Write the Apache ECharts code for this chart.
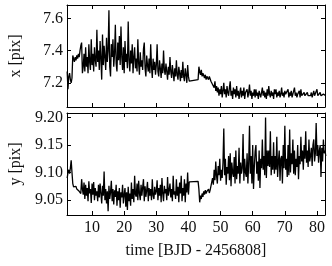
<!DOCTYPE html>
<html>
<head>
<meta charset="utf-8">
<script src="https://cdn.jsdelivr.net/npm/echarts@6/dist/echarts.min.js"></script>
<style>
  html, body { margin: 0; padding: 0; background: #fff; }
  #chart { width: 332px; height: 266px; }
</style>
</head>
<body>
<div id="chart"></div>
<script>
// time samples before the gap (days, BJD - 2456808), 8 per row
var t1 = [
  2.25, 2.5, 2.75, 3, 3.25, 3.5, 3.75, 4,
  4.25, 4.5, 4.75, 5, 5.25, 5.5, 5.75, 6,
  6.25, 6.5, 6.75, 7, 7.25, 7.5, 7.75, 8,
  8.25, 8.5, 8.75, 9, 9.25, 9.5, 9.75, 10,
  10.25, 10.5, 10.75, 11, 11.25, 11.5, 11.75, 12,
  12.25, 12.5, 12.75, 13, 13.25, 13.5, 13.75, 14,
  14.25, 14.5, 14.75, 15, 15.25, 15.5, 15.75, 16,
  16.25, 16.5, 16.75, 17, 17.25, 17.5, 17.75, 18,
  18.25, 18.5, 18.75, 19, 19.25, 19.5, 19.75, 20,
  20.25, 20.5, 20.75, 21, 21.25, 21.5, 21.75, 22,
  22.25, 22.5, 22.75, 23, 23.25, 23.5, 23.75, 24,
  24.25, 24.5, 24.75, 25, 25.25, 25.5, 25.75, 26,
  26.25, 26.5, 26.75, 27, 27.25, 27.5, 27.75, 28,
  28.25, 28.5, 28.75, 29, 29.25, 29.5, 29.75, 30,
  30.25, 30.5, 30.75, 31, 31.25, 31.5, 31.75, 32,
  32.25, 32.5, 32.75, 33, 33.25, 33.5, 33.75, 34,
  34.25, 34.5, 34.75, 35, 35.25, 35.5, 35.75, 36,
  36.25, 36.5, 36.75, 37, 37.25, 37.5, 37.75, 38,
  38.25, 38.5, 38.75, 39, 39.25, 39.5, 39.75, 40,
  40.25
]
// time samples after the gap
var t2 = [
  43, 43.25, 43.5, 43.75, 44, 44.25, 44.5, 44.75,
  45, 45.25, 45.5, 45.75, 46, 46.25, 46.5, 46.75,
  47, 47.25, 47.5, 47.75, 48, 48.25, 48.5, 48.75,
  49, 49.25, 49.5, 49.75, 50, 50.25, 50.5, 50.75,
  51, 51.25, 51.5, 51.75, 52, 52.25, 52.5, 52.75,
  53, 53.25, 53.5, 53.75, 54, 54.25, 54.5, 54.75,
  55, 55.25, 55.5, 55.75, 56, 56.25, 56.5, 56.75,
  57, 57.25, 57.5, 57.75, 58, 58.25, 58.5, 58.75,
  59, 59.25, 59.5, 59.75, 60, 60.25, 60.5, 60.75,
  61, 61.25, 61.5, 61.75, 62, 62.25, 62.5, 62.75,
  63, 63.25, 63.5, 63.75, 64, 64.25, 64.5, 64.75,
  65, 65.25, 65.5, 65.75, 66, 66.25, 66.5, 66.75,
  67, 67.25, 67.5, 67.75, 68, 68.25, 68.5, 68.75,
  69, 69.25, 69.5, 69.75, 70, 70.25, 70.5, 70.75,
  71, 71.25, 71.5, 71.75, 72, 72.25, 72.5, 72.75,
  73, 73.25, 73.5, 73.75, 74, 74.25, 74.5, 74.75,
  75, 75.25, 75.5, 75.75, 76, 76.25, 76.5, 76.75,
  77, 77.25, 77.5, 77.75, 78, 78.25, 78.5, 78.75,
  79, 79.25, 79.5, 79.75, 80, 80.25, 80.5, 80.75,
  81, 81.25, 81.5, 81.75, 82, 82.25, 82.5, 82.75
]
// x [pix]
var x1 = [
  7.27, 7.16, 7.24, 7.26, 7.22, 7.20, 7.23, 7.37,
  7.35, 7.33, 7.36, 7.34, 7.37, 7.35, 7.38, 7.36,
  7.40, 7.43, 7.45, 7.26, 7.30, 7.38, 7.27, 7.42,
  7.30, 7.36, 7.26, 7.44, 7.33, 7.28, 7.47, 7.31,
  7.38, 7.27, 7.42, 7.34, 7.30, 7.53, 7.33, 7.40,
  7.28, 7.46, 7.35, 7.22, 7.50, 7.31, 7.43, 7.36,
  7.28, 7.48, 7.33, 7.40, 7.65, 7.30, 7.24, 7.44,
  7.36, 7.47, 7.30, 7.38, 7.56, 7.32, 7.27, 7.45,
  7.34, 7.49, 7.31, 7.55, 7.36, 7.28, 7.42, 7.26,
  7.46, 7.33, 7.38, 7.29, 7.58, 7.34, 7.27, 7.40,
  7.32, 7.44, 7.26, 7.36, 7.42, 7.29, 7.35, 7.27,
  7.47, 7.32, 7.25, 7.39, 7.30, 7.34, 7.28, 7.41,
  7.45, 7.29, 7.24, 7.37, 7.31, 7.27, 7.35, 7.26,
  7.44, 7.30, 7.23, 7.35, 7.28, 7.33, 7.25, 7.31,
  7.44, 7.27, 7.24, 7.34, 7.29, 7.23, 7.32, 7.26,
  7.40, 7.28, 7.25, 7.32, 7.27, 7.22, 7.30, 7.25,
  7.36, 7.27, 7.23, 7.31, 7.26, 7.21, 7.29, 7.24,
  7.34, 7.25, 7.22, 7.30, 7.26, 7.21, 7.28, 7.23,
  7.33, 7.24, 7.21, 7.29, 7.25, 7.20, 7.31, 7.24,
  7.21
]
var x2 = [
  7.22, 7.30, 7.27, 7.25, 7.28, 7.24, 7.26, 7.25,
  7.23, 7.25, 7.22, 7.24, 7.23, 7.22, 7.24, 7.23,
  7.21, 7.22, 7.19, 7.20, 7.17, 7.21, 7.15, 7.18,
  7.14, 7.17, 7.12, 7.16, 7.13, 7.18, 7.11, 7.15,
  7.20, 7.13, 7.16, 7.11, 7.18, 7.14, 7.12, 7.17,
  7.21, 7.12, 7.15, 7.10, 7.17, 7.13, 7.16, 7.11,
  7.18, 7.12, 7.15, 7.10, 7.14, 7.17, 7.11, 7.15,
  7.12, 7.17, 7.10, 7.14, 7.13, 7.16, 7.11, 7.14,
  7.19, 7.12, 7.15, 7.10, 7.14, 7.12, 7.16, 7.11,
  7.16, 7.12, 7.14, 7.10, 7.15, 7.13, 7.11, 7.14,
  7.17, 7.12, 7.15, 7.11, 7.14, 7.10, 7.16, 7.12,
  7.18, 7.13, 7.11, 7.15, 7.12, 7.14, 7.10, 7.16,
  7.13, 7.16, 7.11, 7.14, 7.12, 7.15, 7.11, 7.13,
  7.17, 7.12, 7.14, 7.11, 7.15, 7.13, 7.12, 7.14,
  7.16, 7.11, 7.14, 7.12, 7.15, 7.11, 7.13, 7.12,
  7.17, 7.12, 7.14, 7.11, 7.13, 7.12, 7.15, 7.11,
  7.16, 7.12, 7.13, 7.11, 7.14, 7.12, 7.13, 7.11,
  7.14, 7.12, 7.13, 7.11, 7.12, 7.14, 7.11, 7.13,
  7.15, 7.12, 7.13, 7.11, 7.16, 7.12, 7.13, 7.11,
  7.14, 7.12, 7.13, 7.11, 7.13, 7.12, 7.14, 7.12
]
// y [pix]
var y1 = [
  9.090, 9.100, 9.105, 9.098, 9.108, 9.122, 9.100, 9.080,
  9.074, 9.076, 9.072, 9.075, 9.070, 9.068, 9.070, 9.066,
  9.064, 9.062, 9.088, 9.070, 9.060, 9.082, 9.052, 9.078,
  9.058, 9.072, 9.048, 9.084, 9.062, 9.070, 9.045, 9.080,
  9.060, 9.083, 9.050, 9.072, 9.058, 9.066, 9.048, 9.078,
  9.055, 9.080, 9.062, 9.044, 9.076, 9.058, 9.102, 9.050,
  9.070, 9.044, 9.066, 9.030, 9.076, 9.052, 9.064, 9.085,
  9.048, 9.070, 9.042, 9.068, 9.056, 9.078, 9.040, 9.066,
  9.050, 9.072, 9.036, 9.064, 9.055, 9.078, 9.044, 9.060,
  9.072, 9.038, 9.064, 9.032, 9.074, 9.048, 9.062, 9.040,
  9.082, 9.052, 9.070, 9.046, 9.094, 9.060, 9.056, 9.080,
  9.050, 9.085, 9.062, 9.050, 9.078, 9.058, 9.060, 9.088,
  9.048, 9.075, 9.056, 9.068, 9.083, 9.048, 9.072, 9.058,
  9.070, 9.050, 9.088, 9.058, 9.052, 9.074, 9.060, 9.066,
  9.086, 9.050, 9.072, 9.058, 9.078, 9.046, 9.090, 9.062,
  9.048, 9.076, 9.062, 9.070, 9.050, 9.092, 9.058, 9.068,
  9.080, 9.055, 9.070, 9.048, 9.094, 9.060, 9.066, 9.052,
  9.088, 9.058, 9.074, 9.046, 9.082, 9.062, 9.094, 9.048,
  9.072, 9.058, 9.088, 9.046, 9.080, 9.064, 9.100, 9.060,
  9.083
]
var y2 = [
  9.084, 9.070, 9.046, 9.058, 9.052, 9.062, 9.056, 9.066,
  9.060, 9.068, 9.062, 9.066, 9.064, 9.070, 9.063, 9.068,
  9.066, 9.070, 9.090, 9.078, 9.105, 9.086, 9.120, 9.094,
  9.080, 9.112, 9.095, 9.125, 9.085, 9.105, 9.090, 9.118,
  9.180, 9.095, 9.125, 9.078, 9.110, 9.098, 9.130, 9.086,
  9.135, 9.075, 9.118, 9.100, 9.092, 9.128, 9.080, 9.140,
  9.088, 9.112, 9.098, 9.145, 9.080, 9.118, 9.098, 9.108,
  9.170, 9.085, 9.125, 9.100, 9.092, 9.135, 9.080, 9.118,
  9.185, 9.098, 9.130, 9.080, 9.150, 9.070, 9.110, 9.138,
  9.150, 9.098, 9.120, 9.085, 9.140, 9.072, 9.125, 9.108,
  9.160, 9.105, 9.130, 9.095, 9.200, 9.090, 9.140, 9.112,
  9.140, 9.110, 9.175, 9.095, 9.130, 9.105, 9.155, 9.098,
  9.130, 9.105, 9.165, 9.092, 9.120, 9.140, 9.085, 9.125,
  9.130, 9.080, 9.150, 9.108, 9.185, 9.105, 9.125, 9.092,
  9.150, 9.095, 9.178, 9.100, 9.135, 9.115, 9.160, 9.098,
  9.140, 9.095, 9.125, 9.110, 9.150, 9.088, 9.130, 9.115,
  9.165, 9.120, 9.140, 9.105, 9.150, 9.125, 9.175, 9.118,
  9.140, 9.110, 9.160, 9.120, 9.130, 9.145, 9.112, 9.150,
  9.160, 9.120, 9.135, 9.190, 9.130, 9.150, 9.118, 9.140,
  9.150, 9.092, 9.145, 9.120, 9.160, 9.135, 9.140, 9.130
]

var times = t1.concat(t2)
var xVals = x1.concat(x2)
var yVals = y1.concat(y2)

var font = 'Liberation Serif'
var tMin = 2.2, tMax = 82.5

function pairs(vals) {
  return times.map(function (t, i) { return [t, vals[i]] })
}

function timeAxis(grid, pos, labels, name) {
  return {
    type: 'value', gridIndex: grid, position: pos,
    min: tMin, max: tMax, minInterval: 10, maxInterval: 10,
    axisLine: { show: true, onZero: false, lineStyle: { color: '#000', width: 1 } },
    axisTick: { show: true, inside: true, length: 4, lineStyle: { color: '#000' } },
    axisLabel: {
      show: labels, margin: 5, color: '#111', fontFamily: font, fontSize: 16,
      showMinLabel: false, showMaxLabel: false
    },
    splitLine: { show: false },
    name: name || '', nameLocation: 'middle', nameGap: 28,
    nameTextStyle: { color: '#111', fontFamily: font, fontSize: 16 }
  }
}

function valAxis(grid, pos, min, max, step, dec, name) {
  return {
    type: 'value', gridIndex: grid, position: pos,
    min: min, max: max, minInterval: step, maxInterval: step,
    axisLine: { show: true, onZero: false, lineStyle: { color: '#000', width: 1 } },
    axisTick: { show: true, inside: true, length: 4, lineStyle: { color: '#000' } },
    axisLabel: {
      show: pos === 'left', margin: 4, color: '#111', fontFamily: font, fontSize: 16,
      showMinLabel: false, showMaxLabel: false,
      formatter: function (v) { return v.toFixed(dec) }
    },
    splitLine: { show: false },
    name: name || '', nameLocation: 'middle', nameGap: 43,
    nameTextStyle: { color: '#111', fontFamily: font, fontSize: 16 }
  }
}

var chart = echarts.init(document.getElementById('chart'), null, { renderer: 'canvas' })
chart.setOption({
  backgroundColor: '#fff',
  animation: false,
  grid: [
    { left: 66, right: 7, top: 5, height: 102 },
    { left: 66, right: 7, top: 113, height: 102 }
  ],
  xAxis: [
    timeAxis(0, 'bottom', false),
    timeAxis(0, 'top', false),
    timeAxis(1, 'bottom', true, 'time [BJD - 2456808]'),
    timeAxis(1, 'top', false)
  ],
  yAxis: [
    valAxis(0, 'left', 7.05, 7.683, 0.2, 1, 'x [pix]'),
    valAxis(0, 'right', 7.05, 7.683, 0.2, 1),
    valAxis(1, 'left', 9.023, 9.208, 0.05, 2, 'y [pix]'),
    valAxis(1, 'right', 9.023, 9.208, 0.05, 2)
  ],
  series: [
    {
      type: 'line', xAxisIndex: 0, yAxisIndex: 0, data: pairs(xVals),
      showSymbol: false, lineStyle: { color: '#000', width: 1.3 }
    },
    {
      type: 'line', xAxisIndex: 2, yAxisIndex: 2, data: pairs(yVals),
      showSymbol: false, lineStyle: { color: '#000', width: 1.3 }
    }
  ]
})
</script>
</body>
</html>
